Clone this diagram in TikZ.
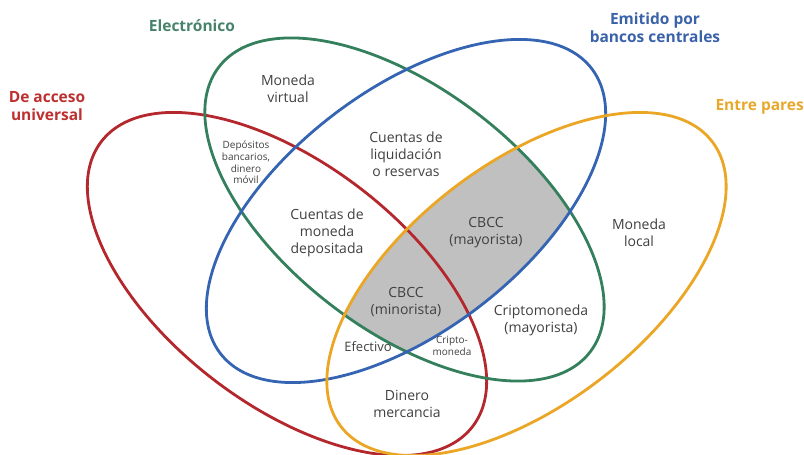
\documentclass[tikz,border=0pt]{standalone}
\usepackage{fontspec}
\setmainfont{Open Sans}
\begin{document}
\definecolor{cred}{RGB}{180,40,45}
\definecolor{cgreen}{RGB}{52,128,92}
\definecolor{cblue}{RGB}{52,100,178}
\definecolor{corange}{RGB}{234,166,36}
\definecolor{tred}{RGB}{190,48,48}
\definecolor{tgreen}{RGB}{70,130,108}
\definecolor{tblue}{RGB}{58,98,170}
\definecolor{torange}{RGB}{232,168,44}
\definecolor{txt}{RGB}{64,64,64}
\definecolor{cbdc}{RGB}{192,192,192}
\begin{tikzpicture}[x=1pt,y=1pt,
  ring/.style={line width=2.8pt},
  settitle/.style={font=\fontsize{15.5}{18.5}\selectfont\bfseries, align=center, inner sep=0pt},
  lbl/.style={font=\fontsize{14}{17}\selectfont, text=txt, align=center, inner sep=0pt},
  small/.style={font=\fontsize{10}{11.7}\selectfont, text=txt, align=center, inner sep=0pt}]
\useasboundingbox (0,0) rectangle (804,455);
% set centres (y measured upward)
\coordinate (cR) at (287,171);
\coordinate (cG) at (404.5,245.5);
\coordinate (cB) at (406,244);
\coordinate (cO) at (526.5,171);
% shaded region: electronic, central-bank issued, peer-to-peer
\begin{scope}
  \clip[rotate around={37.5:(cO)}] (cO) ellipse [x radius=234pt, y radius=120.5pt];
  \clip[rotate around={37.5:(cB)}] (cB) ellipse [x radius=234pt, y radius=120.5pt];
  \fill[cbdc, rotate around={-37.5:(cG)}] (cG) ellipse [x radius=234pt, y radius=120.5pt];
\end{scope}
% the four sets
\draw[ring, cred, rotate around={-37.5:(cR)}] (cR) ellipse [x radius=234pt, y radius=120.5pt];
\draw[ring, cgreen, rotate around={-37.5:(cG)}] (cG) ellipse [x radius=234pt, y radius=120.5pt];
\draw[ring, cblue, rotate around={37.5:(cB)}] (cB) ellipse [x radius=234pt, y radius=120.5pt];
\draw[ring, corange, rotate around={37.5:(cO)}] (cO) ellipse [x radius=234pt, y radius=120.5pt];
% set titles
\node[settitle, text=tgreen] (tElec) at (192,429) {Electrónico};
\node[settitle, text=tblue] (tEmit) at (655,427.5) {Emitido por\\bancos centrales};
\node[settitle, text=torange, anchor=east] (tPares) at (804,348) {Entre pares};
\node[settitle, text=tred] (tUniv) at (47,349) {De acceso\\universal};
% region labels
\node[lbl] (lVirt) at (288,366) {Moneda\\virtual};
\node[small] (lDep) at (246,292.5) {Depósitos\\bancarios,\\dinero\\móvil};
\node[lbl] (lLiq) at (406,301) {Cuentas de\\liquidación\\o reservas};
\node[lbl] (lDepo) at (327,222) {Cuentas de\\moneda\\depositada};
\node[lbl] (lMay) at (486,222) {CBCC\\(mayorista)};
\node[lbl] (lMin) at (406,153) {CBCC\\(minorista)};
\node[lbl, font=\fontsize{13}{15}\selectfont] (lEfec) at (368,108) {Efectivo};
\node[small] (lCrip) at (452,109) {Cripto-\\moneda};
\node[lbl] (lCripM) at (541,135) {Criptomoneda\\(mayorista)};
\node[lbl] (lLoc) at (639,222) {Moneda\\local};
\node[lbl] (lMerc) at (407,51) {Dinero\\mercancia};
\end{tikzpicture}
\end{document}
